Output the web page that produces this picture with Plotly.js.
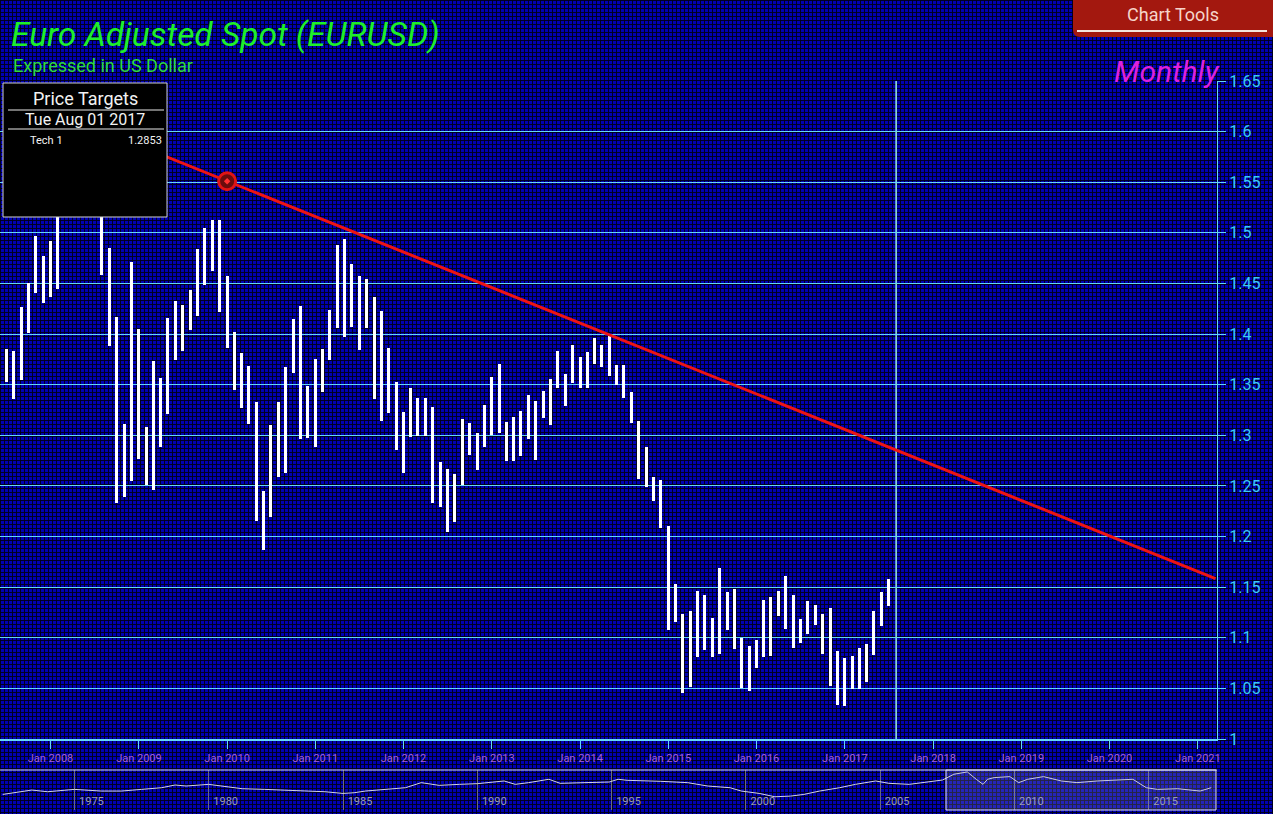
<!DOCTYPE html>
<html>
<head>
<meta charset="utf-8">
<script src="https://cdn.plot.ly/plotly-3.0.1.min.js"></script>
<style>
  html, body { margin: 0; padding: 0; }
  body {
    width: 1273px; height: 814px; overflow: hidden;
    background-color: #0000b2;
    background-image:
      linear-gradient(to right, rgba(0,0,24,0.92) 1px, transparent 1px),
      linear-gradient(to bottom, rgba(0,0,24,0.92) 1px, transparent 1px);
    background-size: 4px 4px;
  }
  #chart { width: 1273px; height: 814px; }
</style>
</head>
<body>
<div id="chart"></div>
<script>
// ---------------- DATA ----------------
const months = [
 '2007-07','2007-08','2007-09','2007-10','2007-11','2007-12',
 '2008-01','2008-02','2008-03','2008-04','2008-05','2008-06','2008-07','2008-08','2008-09','2008-10','2008-11','2008-12',
 '2009-01','2009-02','2009-03','2009-04','2009-05','2009-06','2009-07','2009-08','2009-09','2009-10','2009-11','2009-12',
 '2010-01','2010-02','2010-03','2010-04','2010-05','2010-06','2010-07','2010-08','2010-09','2010-10','2010-11','2010-12',
 '2011-01','2011-02','2011-03','2011-04','2011-05','2011-06','2011-07','2011-08','2011-09','2011-10','2011-11','2011-12',
 '2012-01','2012-02','2012-03','2012-04','2012-05','2012-06','2012-07','2012-08','2012-09','2012-10','2012-11','2012-12',
 '2013-01','2013-02','2013-03','2013-04','2013-05','2013-06','2013-07','2013-08','2013-09','2013-10','2013-11','2013-12',
 '2014-01','2014-02','2014-03','2014-04','2014-05','2014-06','2014-07','2014-08','2014-09','2014-10','2014-11','2014-12',
 '2015-01','2015-02','2015-03','2015-04','2015-05','2015-06','2015-07','2015-08','2015-09','2015-10','2015-11','2015-12',
 '2016-01','2016-02','2016-03','2016-04','2016-05','2016-06','2016-07','2016-08','2016-09','2016-10','2016-11','2016-12',
 '2017-01','2017-02','2017-03','2017-04','2017-05','2017-06','2017-07'
];
const highs = [
 1.385,1.383,1.427,1.450,1.497,1.477,
 1.492,1.524,1.590,1.602,1.582,1.580,1.604,1.562,1.485,1.417,1.311,1.471,
 1.405,1.308,1.373,1.357,1.416,1.433,1.429,1.444,1.484,1.505,1.513,1.513,
 1.457,1.402,1.381,1.368,1.333,1.245,1.310,1.333,1.367,1.415,1.428,1.349,
 1.375,1.385,1.424,1.488,1.494,1.469,1.457,1.454,1.437,1.423,1.386,1.353,
 1.323,1.347,1.337,1.337,1.328,1.274,1.267,1.262,1.316,1.312,1.302,1.330,
 1.358,1.370,1.313,1.318,1.324,1.340,1.334,1.344,1.356,1.383,1.361,1.389,
 1.377,1.382,1.396,1.389,1.398,1.369,1.369,1.343,1.314,1.288,1.259,1.256,
 1.210,1.153,1.123,1.126,1.146,1.142,1.120,1.169,1.145,1.148,1.100,1.092,
 1.098,1.137,1.140,1.146,1.161,1.142,1.119,1.136,1.132,1.123,1.129,1.087,
 1.080,1.082,1.090,1.094,1.126,1.145,1.158
];
const lows = [
 1.353,1.336,1.355,1.401,1.441,1.431,
 1.437,1.445,1.517,1.553,1.529,1.530,1.550,1.458,1.388,1.233,1.239,1.255,
 1.277,1.251,1.246,1.288,1.321,1.374,1.383,1.404,1.418,1.448,1.462,1.422,
 1.386,1.345,1.327,1.311,1.215,1.187,1.219,1.259,1.263,1.362,1.296,1.297,
 1.288,1.343,1.374,1.406,1.397,1.407,1.384,1.406,1.336,1.314,1.322,1.285,
 1.263,1.298,1.299,1.299,1.233,1.229,1.204,1.214,1.251,1.281,1.266,1.288,
 1.300,1.302,1.275,1.275,1.280,1.296,1.276,1.317,1.310,1.347,1.329,1.352,
 1.347,1.347,1.370,1.367,1.359,1.350,1.337,1.312,1.257,1.249,1.235,1.208,
 1.108,1.116,1.045,1.051,1.081,1.088,1.081,1.084,1.108,1.089,1.050,1.047,
 1.070,1.081,1.082,1.122,1.109,1.090,1.095,1.104,1.113,1.084,1.052,1.034,
 1.033,1.049,1.049,1.056,1.083,1.112,1.131
];

// trend line (Tech 1) and its anchor point
const trendDates  = ['2008-04-01', '2021-03-15'];
const trendValues = [1.6125, 1.1585];
const pivotDate   = ['2010-01-01'];
const pivotValue  = [1.551];

// price target
const targetDate  = '2017-08-01';
const targetLabel = 'Tech 1';
const targetValue = 1.2853;
const targetDateText = 'Tue Aug 01 2017';

// navigator (full history) series
const navDates = [
 '1972-05','1973-06','1974-01','1975-01','1976-01','1976-10','1977-07','1978-04','1978-10','1979-03',
 '1980-01','1980-07','1981-04','1982-02','1982-11','1983-08','1984-05','1985-01','1985-06','1985-11',
 '1986-08','1987-05','1987-12','1988-08','1989-05','1990-01','1991-01','1991-06','1991-12','1992-09',
 '1993-02','1993-11','1994-12','1995-04','1995-08','1996-11','1997-11','1998-08','1999-06','1999-11',
 '2000-07','2001-02','2001-09','2002-03','2002-10','2003-07','2004-02','2004-11','2005-05','2006-02',
 '2006-11','2007-05','2007-10','2008-04','2008-08','2008-11','2009-01','2009-04','2009-11','2010-03',
 '2010-07','2011-02','2011-10','2012-05','2013-02','2013-11','2014-06','2014-12','2015-05','2016-02',
 '2016-12','2017-05'
];
const navValues = [
 0.903,1.038,0.986,1.059,1.007,1.007,1.059,1.111,1.195,1.163,
 1.215,1.163,1.080,1.059,1.038,1.007,0.986,0.934,0.955,1.007,
 1.059,1.111,1.268,1.184,1.215,1.236,1.320,1.215,1.268,1.372,
 1.247,1.268,1.288,1.372,1.340,1.309,1.268,1.163,1.111,1.007,
 0.934,0.830,0.851,0.903,1.007,1.111,1.215,1.320,1.247,1.215,
 1.288,1.350,1.528,1.600,1.372,1.215,1.372,1.424,1.455,1.268,
 1.372,1.455,1.320,1.268,1.320,1.350,1.372,1.111,1.059,1.080,
 1.007,1.111
];

// ---------------- LAYOUT HELPERS ----------------
const W = 1273, H = 814;
const mL = 0, mR = 56, mT = 81, mB = 4;
const plotW = W - mL - mR, plotH = H - mT - mB;
const px = x => (x - mL) / plotW;          // pixel x -> paper x
const py = y => (H - mB - y) / plotH;      // pixel y -> paper y

const mainRange = ['2007-06-06', '2021-03-21'];
const navRange  = ['1972-03-25', '2017-07-19'];

const cyan = '#66d6f4';
const barWidthMs = 12.4 * 86400000;

const traces = [
  {
    type: 'bar', x: months.map(m => m + '-01'),
    y: highs.map((h, i) => h - lows[i]), base: lows,
    width: barWidthMs,
    marker: { color: '#ffffff', line: { width: 0 } },
    hoverinfo: 'skip', xaxis: 'x', yaxis: 'y'
  },
  {
    type: 'scatter', mode: 'lines', x: trendDates, y: trendValues,
    line: { color: '#ee1414', width: 3 }, hoverinfo: 'skip', xaxis: 'x', yaxis: 'y'
  },
  {
    type: 'scatter', mode: 'markers', x: pivotDate, y: pivotValue,
    marker: { symbol: 'circle', size: 17, color: '#6a0c0c', line: { color: '#e01414', width: 3 } },
    hoverinfo: 'skip', xaxis: 'x', yaxis: 'y'
  },
  {
    type: 'scatter', mode: 'markers', x: pivotDate, y: pivotValue,
    marker: { symbol: 'diamond', size: 5, color: '#ff3030' },
    hoverinfo: 'skip', xaxis: 'x', yaxis: 'y'
  },
  {
    type: 'scatter', mode: 'lines', x: navDates.map(d => d + '-01'), y: navValues,
    line: { color: '#d4d4e4', width: 1 }, hoverinfo: 'skip', xaxis: 'x2', yaxis: 'y2'
  }
];

const layout = {
  width: W, height: H,
  margin: { l: mL, r: mR, t: mT, b: mB, pad: 0 },
  paper_bgcolor: 'rgba(0,0,0,0)',
  plot_bgcolor: 'rgba(0,0,0,0)',
  showlegend: false,
  bargap: 0,
  font: { family: 'Roboto, sans-serif', color: '#ffffff' },
  title: {
    text: 'Euro Adjusted Spot (EURUSD)',
    xref: 'container', yref: 'container',
    x: 11 / W, xanchor: 'left',
    y: 1 - 34 / H, yanchor: 'middle',
    font: { family: 'Roboto, sans-serif', size: 33.5, color: '#1fee2a', style: 'italic' }
  },
  xaxis: {
    type: 'date', range: mainRange, domain: [0, 1], anchor: 'y',
    tick0: '2008-01-01', dtick: 'M12', tickformat: '%b %Y',
    ticks: 'outside', ticklen: 8, tickcolor: cyan, tickwidth: 1,
    showline: true, linecolor: cyan, linewidth: 2,
    showgrid: false, zeroline: false,
    tickfont: { family: 'Roboto, sans-serif', size: 11, color: '#a462d6' },
    fixedrange: true
  },
  yaxis: {
    range: [1, 1.65], domain: [py(739), 1], anchor: 'x', side: 'right',
    tick0: 1, dtick: 0.05,
    showgrid: true, gridcolor: cyan, gridwidth: 1,
    ticks: 'outside', ticklen: 8, tickcolor: cyan,
    showline: true, linecolor: cyan, linewidth: 1,
    zeroline: false,
    tickfont: { family: 'Roboto, sans-serif', size: 16, color: '#3ccaf4' },
    fixedrange: true
  },
  xaxis2: {
    type: 'date', range: navRange, domain: [0, 1], anchor: 'y2',
    tick0: '1975-01-01', dtick: 'M60', tickformat: '%Y',
    ticklabelposition: 'inside', ticklabelshift: 17, ticklabelstandoff: 0,
    ticks: '', showgrid: true, gridcolor: '#6a6a80', gridwidth: 1,
    showline: false, zeroline: false,
    tickfont: { family: 'Roboto, sans-serif', size: 11, color: '#9c9cae' },
    fixedrange: true
  },
  yaxis2: {
    range: [0.42, 1.66], domain: [0, py(770)], anchor: 'x2',
    visible: false, showgrid: false, zeroline: false, fixedrange: true
  },
  shapes: [
    // target vertical line
    { type: 'line', xref: 'x', yref: 'y', x0: targetDate, x1: targetDate, y0: 1, y1: 1.65,
      line: { color: '#9ef0e0', width: 1.5 }, layer: 'below' },
    // navigator top border
    { type: 'line', xref: 'paper', yref: 'paper', x0: 0, x1: 1, y0: py(770), y1: py(770),
      line: { color: '#d8d8e8', width: 1 } },
    // navigator selection window
    { type: 'rect', xref: 'paper', yref: 'paper', x0: px(946), x1: px(1216), y0: py(810), y1: py(770),
      fillcolor: 'rgba(170,170,210,0.22)', line: { color: '#e0e0f0', width: 1 } },
    // price target box
    { type: 'rect', xref: 'paper', yref: 'paper', x0: px(3), x1: px(167), y0: py(217), y1: py(83),
      fillcolor: '#000000', line: { color: '#d0d0d0', width: 1 }, layer: 'above' },
    { type: 'line', xref: 'paper', yref: 'paper', x0: px(8), x1: px(164), y0: py(110), y1: py(110),
      line: { color: '#e8e8e8', width: 1 }, layer: 'above' },
    { type: 'line', xref: 'paper', yref: 'paper', x0: px(8), x1: px(164), y0: py(129), y1: py(129),
      line: { color: '#e8e8e8', width: 1 }, layer: 'above' },
    // Chart Tools button
    { type: 'path', xref: 'paper', yref: 'paper',
      path: 'M ' + px(1073) + ',' + py(0) + ' L ' + px(1273) + ',' + py(0) + ' L ' + px(1273) + ',' + py(37) +
            ' L ' + px(1080) + ',' + py(37) + ' Q ' + px(1073) + ',' + py(37) + ' ' + px(1073) + ',' + py(30) + ' Z',
      fillcolor: '#a3180f', line: { width: 0 }, layer: 'above' },
    { type: 'line', xref: 'paper', yref: 'paper', x0: px(1077), x1: px(1267), y0: py(31), y1: py(31),
      line: { color: '#f4e4dc', width: 2 }, layer: 'above' }
  ],
  annotations: [
    { text: 'Expressed in US Dollar', xref: 'paper', yref: 'paper', x: px(11), y: py(66),
      xanchor: 'left', yanchor: 'middle', showarrow: false,
      font: { family: 'Roboto, sans-serif', size: 18, color: '#2fdc3a' } },
    { text: 'Monthly', xref: 'paper', yref: 'paper', x: px(1222), y: py(72),
      xanchor: 'right', yanchor: 'middle', showarrow: false,
      font: { family: 'Roboto, sans-serif', size: 30, color: '#dd22dd', style: 'italic' } },
    { text: 'Price Targets', xref: 'paper', yref: 'paper', x: px(85), y: py(98),
      xanchor: 'center', yanchor: 'middle', showarrow: false,
      font: { family: 'Roboto, sans-serif', size: 18, color: '#f2f2f2' } },
    { text: targetDateText, xref: 'paper', yref: 'paper', x: px(85), y: py(120),
      xanchor: 'center', yanchor: 'middle', showarrow: false,
      font: { family: 'Roboto, sans-serif', size: 16, color: '#f2f2f2' } },
    { text: targetLabel, xref: 'paper', yref: 'paper', x: px(28), y: py(141),
      xanchor: 'left', yanchor: 'middle', showarrow: false,
      font: { family: 'Roboto, sans-serif', size: 11, color: '#f2f2f2' } },
    { text: targetValue.toFixed(4), xref: 'paper', yref: 'paper', x: px(164), y: py(141),
      xanchor: 'right', yanchor: 'middle', showarrow: false,
      font: { family: 'Roboto, sans-serif', size: 11, color: '#f2f2f2' } },
    { text: 'Chart Tools', xref: 'paper', yref: 'paper', x: px(1173), y: py(14),
      xanchor: 'center', yanchor: 'middle', showarrow: false,
      font: { family: 'Roboto, sans-serif', size: 18, color: '#f6d4ca' } }
  ]
};

Plotly.newPlot('chart', traces, layout, { displayModeBar: false, staticPlot: true });
</script>
</body>
</html>
